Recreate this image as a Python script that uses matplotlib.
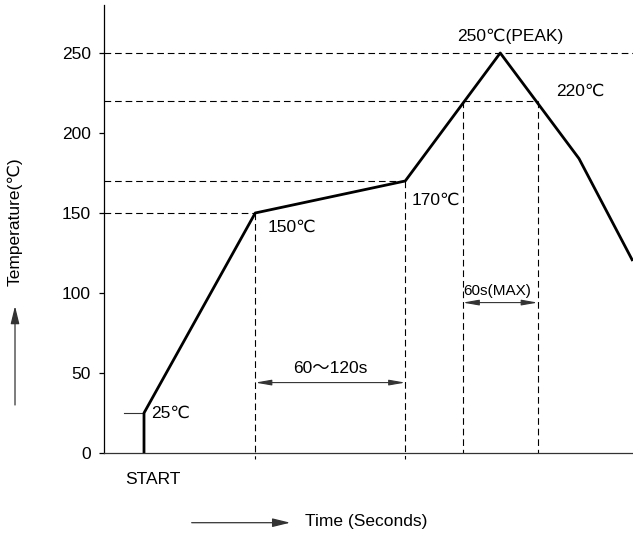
import matplotlib
matplotlib.use("Agg")
import matplotlib.pyplot as plt

plt.rcParams['font.family'] = ['Liberation Sans', 'DejaVu Sans', 'Noto Sans CJK SC']

# Reflow profile (time in s from START, temperature in °C)
profile_time = [0, 0, 89, 209, 285, 348, 391]
profile_temp = [0, 25, 150, 170, 250, 184, 120]

y_ticks = [0, 50, 100, 150, 200, 250]
t_150, t_170 = 89, 209
t_220_up, t_220_down = 255, 315
t_peak = 285

fig = plt.figure(figsize=(6.33, 5.35), dpi=100)
ax = fig.add_axes([0.1643, 0.1533, 0.8357, 0.8374])
xmin, xmax = -32, 391.2
ax.set_xlim(xmin, xmax)
ax.set_ylim(0, 280)

for s in ['top', 'right']:
    ax.spines[s].set_visible(False)
ax.spines['left'].set_linewidth(0.9)
ax.spines['bottom'].set_linewidth(0.9)
ax.spines['bottom'].set_color('#333333')
ax.set_xticks([])
ax.set_yticks(y_ticks)
ax.set_yticklabels([str(v) for v in y_ticks])
ax.tick_params(axis='y', length=3.6, width=0.9, pad=6, labelsize=12.5)

dash = dict(color='black', lw=0.8, linestyle=(0, (6, 3.5)))
# horizontal guides
ax.plot([xmin, xmax], [250, 250], **dash)
ax.plot([xmin, t_220_down], [220, 220], **dash)
ax.plot([xmin, t_170], [170, 170], **dash)
ax.plot([xmin, t_150], [150, 150], **dash)
# vertical guides
ax.plot([t_150, t_150], [150, -4], clip_on=False, **dash)
ax.plot([t_170, t_170], [170, -4], clip_on=False, **dash)
ax.plot([t_220_up, t_220_up], [220, 0], **dash)
ax.plot([t_220_down, t_220_down], [220, 0], **dash)

# 25 °C marker
ax.plot([-16, 0], [25, 25], color='#333333', lw=0.8)

# profile
ax.plot(profile_time, profile_temp, color='black', lw=2.0, solid_joinstyle='round',
        solid_capstyle='butt', zorder=5)

arrow = dict(arrowstyle='<|-|>,head_length=0.8,head_width=0.14', color='#333333',
             lw=0.8, shrinkA=0, shrinkB=0, mutation_scale=12)
ax.annotate('', xy=(t_150, 44), xytext=(t_170, 44), arrowprops=arrow)
ax.annotate('', xy=(t_220_up, 94), xytext=(t_220_down, 94), arrowprops=arrow)

fs = 12.5
ax.text((t_150 + t_170) / 2, 52.5, '60～120s', ha='center', va='center', fontsize=fs)
ax.text(282.6, 101.4, '60s(MAX)', ha='center', va='center', fontsize=11)
ax.text(292.8, 260.5, '250℃(PEAK)', ha='center', va='center', fontsize=fs)
ax.text(329.6, 225.8, '220℃', ha='left', va='center', fontsize=fs)
ax.text(214.4, 157.7, '170℃', ha='left', va='center', fontsize=fs)
ax.text(99.2, 140.8, '150℃', ha='left', va='center', fontsize=fs)
ax.text(5.6, 24.8, '25℃', ha='left', va='center', fontsize=fs)
ax.text(7.2, -16.4, 'START', ha='center', va='center', fontsize=fs, clip_on=False)

# axis titles with arrows (figure coordinates)
fig.text(0.0237, 0.585, 'Temperature(℃)', rotation=90, ha='center', va='center', fontsize=fs)
fig.add_artist(matplotlib.patches.FancyArrowPatch(
    (0.0237, 0.243), (0.0237, 0.428), transform=fig.transFigure,
    arrowstyle='-|>,head_length=0.9,head_width=0.22', mutation_scale=12,
    color='#333333', lw=0.9, shrinkA=0, shrinkB=0))
fig.add_artist(matplotlib.patches.FancyArrowPatch(
    (0.3028, 0.0230), (0.4585, 0.0230), transform=fig.transFigure,
    arrowstyle='-|>,head_length=0.9,head_width=0.22', mutation_scale=12,
    color='#333333', lw=0.9, shrinkA=0, shrinkB=0))
fig.text(0.4818, 0.0243, 'Time (Seconds)', ha='left', va='center', fontsize=fs)

fig.savefig('out.png', dpi=100)
